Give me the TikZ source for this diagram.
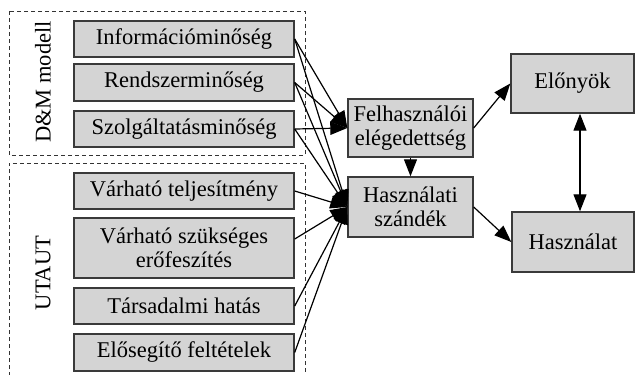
\documentclass[tikz,border=0pt]{standalone}
\usepackage{fontspec}
\setmainfont{Liberation Serif}
\usetikzlibrary{arrows.meta}
\definecolor{boxfill}{HTML}{D4D4D4}
\definecolor{boxline}{HTML}{3A3A3A}
\begin{document}
\begin{tikzpicture}[x=1pt,y=-1pt,
  bx/.style={draw=boxline,fill=boxfill,line width=1.4pt,inner sep=0pt,align=center,
    font=\fontsize{22.5}{24}\selectfont},
  lbox/.style={bx,minimum width=220pt},
  rbox/.style={bx,minimum width=125pt},
  frame/.style={draw=black!80,dashed,dash pattern=on 4pt off 3pt,line width=1pt},
  arr/.style={-{Triangle[length=17pt,width=13pt]},line width=1.2pt},
  darr/.style={{Triangle[length=17pt,width=13pt]}-{Triangle[length=17pt,width=13pt]},line width=1.2pt},
  vlabel/.style={rotate=90,font=\fontsize{22.5}{24}\selectfont}]
\useasboundingbox (0,0) rectangle (635,375);
% dashed frames
\draw[frame] (9,11) rectangle (305,155);
\draw[frame] (9,376) -- (9,163) -- (305,163) -- (305,376);
\node[vlabel] (dm) at (43,82) {D\&M modell};
\node[vlabel] (ut) at (43,273) {UTAUT};
% left boxes
\node[lbox,minimum height=36pt] (b1) at (184,39) {Információminőség};
\node[lbox,minimum height=37pt] (b2) at (184,82.5) {Rendszerminőség};
\node[lbox,minimum height=36pt] (b3) at (184,129) {Szolgáltatásminőség};
\node[lbox,minimum height=36pt] (b4) at (184,191) {Várható teljesítmény};
\node[lbox,minimum height=60pt] (b5) at (184,248) {Várható szükséges\\erőfeszítés};
\node[lbox,minimum height=36pt] (b6) at (184,306) {Társadalmi hatás};
\node[lbox,minimum height=37pt] (b7) at (184,352.5) {Elősegítő feltételek};
% middle boxes
\node[rbox,minimum height=58pt] (fel) at (410.5,128) {Felhasználói\\elégedettség};
\node[rbox,minimum height=60pt] (szan) at (410.5,207) {Használati\\szándék};
% right boxes
\node[bx,minimum width=123pt,minimum height=59pt] (elo) at (572.5,83.5) {Előnyök};
\node[bx,minimum width=122pt,minimum height=60pt] (has) at (573,242) {Használat};
% arrows from D&M
\foreach \b in {b1,b2,b3} {
  \draw[arr] (\b.east) -- (fel.west);
  \draw[arr] (\b.east) -- (szan.west);
}
\draw[arr] (b4.east) -- (szan.west);
\draw[arr] ([yshift=9pt]b5.east) -- (szan.west);
\draw[arr] (b6.east) -- (szan.west);
\draw[arr] (b7.east) -- (szan.west);
% other arrows
\draw[arr] (fel.south) -- (szan.north);
\draw[arr] (fel.east) -- (elo.west);
\draw[arr] (szan.east) -- (has.west);
\draw[darr] ([xshift=7.5pt]elo.south) -- ([xshift=7pt]has.north);
\end{tikzpicture}
\end{document}
